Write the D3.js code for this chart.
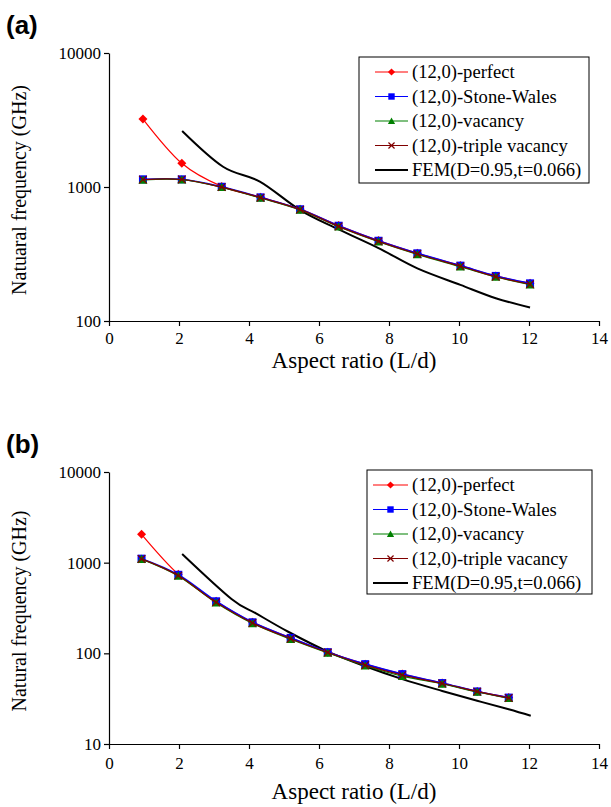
<!DOCTYPE html>
<html><head><meta charset="utf-8">
<script src="https://cdn.jsdelivr.net/npm/d3@7"></script>
<style>body{margin:0;background:#fff}</style>
</head><body>
<svg id="c" width="611" height="807"></svg>
<script>
// ---- data: panel (a) ----
const xA = [0.97, 2.08, 3.22, 4.33, 5.46, 6.56, 7.70, 8.81, 10.04, 11.05, 12.03];
const perfectA = [3215, 1503, 1010, 840, 683, 515, 398, 320, 259, 217, 191];
const stoneWalesA = [1141, 1141, 1004, 837, 682, 514, 397, 320, 259, 217, 191];
const vacancyA = [1130, 1135, 995, 828, 675, 505, 390, 314, 254, 213, 187];
const tripleA = [1135, 1138, 998, 832, 678, 508, 393, 316, 256, 214, 188];
const femXA = [2.09, 3.26, 4.31, 5.46, 6.56, 7.70, 8.81, 10.04, 11.05, 12.03];
const femA = [2618, 1416, 1097, 673, 483, 350, 247, 186, 148, 126];
// ---- data: panel (b) ----
const xB = [0.93, 1.98, 3.06, 4.10, 5.19, 6.25, 7.32, 8.38, 9.52, 10.52, 11.42];
const perfectB = [2055, 745, 375, 220, 148, 103, 76, 59, 47, 38, 32.5];
const stoneWalesB = [1107, 735, 375, 220, 148, 103, 76, 59, 47, 38, 32.5];
const vacancyB = [1095, 715, 362, 214, 143, 101, 73, 56, 46, 37.5, 32];
const tripleB = [1100, 720, 365, 216, 145, 102, 74, 57.5, 46.5, 37.8, 32.2];
const femXB = [2.09, 3.5, 4.2, 5.12, 6.22, 7.32, 8.38, 9.52, 10.52, 11.42, 12.05];
const femB = [1248, 398, 276, 173, 106, 72, 52, 38.5, 30, 24.2, 20.5];
// ---- labels ----
const seriesNames = ["(12,0)-perfect", "(12,0)-Stone-Wales", "(12,0)-vacancy", "(12,0)-triple vacancy", "FEM(D=0.95,t=0.066)"];
const xTicks = [0, 2, 4, 6, 8, 10, 12, 14];
const yTicksA = [100, 1000, 10000];
const yTicksB = [10, 100, 1000, 10000];
const xTitle = "Aspect ratio (L/d)";
const yTitleA = "Natuaral frequency (GHz)";
const yTitleB = "Natural frequency (GHz)";

const colors = ["#ff0000", "#0000ff", "#008000", "#800000", "#000000"];
const markers = ["diamond", "square", "triangle", "cross", null];

const svg = d3.select("#c");
const serif = "'Liberation Serif','Times New Roman',serif";

function marker(g, type, x, y, c, s) {
  s = s || 1;
  if (type === "diamond") {
    const r = 4.5 * s;
    g.append("path").attr("d", `M${x},${y-r}L${x+r},${y}L${x},${y+r}L${x-r},${y}Z`).attr("fill", c);
  } else if (type === "square") {
    const r = 4 * s;
    g.append("rect").attr("x", x - r).attr("y", y - r).attr("width", 2 * r).attr("height", 2 * r).attr("fill", c);
  } else if (type === "triangle") {
    const r = 4.5 * s;
    g.append("path").attr("d", `M${x},${y-r}L${x+r},${y+r*0.85}L${x-r},${y+r*0.85}Z`).attr("fill", c);
  } else if (type === "cross") {
    const r = 3.8 * s;
    g.append("path").attr("d", `M${x-r},${y-r}L${x+r},${y+r}M${x-r},${y+r}L${x+r},${y-r}`).attr("stroke", c).attr("stroke-width", 1.2);
  }
}

function panel(cfg) {
  const g = svg.append("g");
  const x = d3.scaleLinear().domain([0, 14]).range([109, 599]);
  const y = d3.scaleLog().domain(cfg.yDomain).range([cfg.bottom, cfg.top]);

  const series = [
    {xs: cfg.xs, ys: cfg.perfect},
    {xs: cfg.xs, ys: cfg.sw},
    {xs: cfg.xs, ys: cfg.vac},
    {xs: cfg.xs, ys: cfg.tri},
    {xs: cfg.femX, ys: cfg.fem}
  ];
  const line = d3.line().x(d => x(d[0])).y(d => y(d[1])).curve(d3.curveCatmullRom.alpha(0));
  const order = [4, 0, 1, 2, 3];
  order.forEach(i => {
    const s = series[i];
    const pts = s.xs.map((v, j) => [v, s.ys[j]]);
    g.append("path").attr("d", line(pts)).attr("fill", "none")
      .attr("stroke", colors[i]).attr("stroke-width", i === 4 ? 2 : (i === 1 ? 1.6 : 1.2));
    if (markers[i]) pts.forEach(p => marker(g, markers[i], x(p[0]), y(p[1]), colors[i]));
  });

  // axes
  const xa = g.append("g").attr("transform", `translate(0,${cfg.bottom})`)
    .call(d3.axisBottom(x).tickValues(xTicks).tickSize(5).tickSizeOuter(0).tickFormat(d3.format("d")));
  const ya = g.append("g").attr("transform", `translate(109,0)`)
    .call(d3.axisLeft(y).tickValues(cfg.yTicks).tickSize(5).tickSizeOuter(0).tickFormat(d3.format("d")));
  [xa, ya].forEach(a => {
    a.select(".domain").attr("stroke", "#000").attr("stroke-width", 1.2);
    a.selectAll(".tick line").attr("stroke", "#000").attr("stroke-width", 1.2);
    a.selectAll("text").attr("font-family", serif).attr("font-size", 17).attr("fill", "#000");
  });
  xa.selectAll("text").attr("y", 0).attr("dy", 0).attr("transform", `translate(0,${cfg.tickBase})`);
  ya.selectAll("text").attr("x", -8);

  g.append("text").attr("x", 354).attr("y", cfg.bottom + cfg.titleOff).attr("text-anchor", "middle")
    .attr("font-family", serif).attr("font-size", 23).text(xTitle);
  g.append("text").attr("transform", `translate(26,${(cfg.top + cfg.bottom) / 2 + 3}) rotate(-90)`)
    .attr("text-anchor", "middle").attr("font-family", serif).attr("font-size", 20).text(cfg.yTitle);
  g.append("text").attr("x", 6).attr("y", cfg.top - 19)
    .attr("font-family", "'Liberation Sans',Arial,sans-serif").attr("font-weight", "bold").attr("font-size", 26).text(cfg.label);

  // legend
  const L = cfg.legend;
  g.append("rect").attr("x", L.x0).attr("y", L.y0).attr("width", L.x1 - L.x0).attr("height", L.y1 - L.y0)
    .attr("fill", "#fff").attr("stroke", "#000").attr("stroke-width", 1);
  seriesNames.forEach((n, i) => {
    const yy = L.rowY + i * L.dy;
    g.append("line").attr("x1", L.lx0).attr("x2", 408).attr("y1", yy).attr("y2", yy)
      .attr("stroke", colors[i]).attr("stroke-width", i === 4 ? 2 : 1.2);
    if (markers[i]) marker(g, markers[i], (L.lx0 + 408) / 2, yy, colors[i], 0.8);
    g.append("text").attr("x", 412).attr("y", yy).attr("dy", "0.33em")
      .attr("font-family", serif).attr("font-size", 18.6).text(n);
  });
}

panel({top: 53, bottom: 321, yDomain: [100, 10000], yTicks: yTicksA, xs: xA,
  perfect: perfectA, sw: stoneWalesA, vac: vacancyA, tri: tripleA, femX: femXA, fem: femA,
  yTitle: yTitleA, label: "(a)", tickBase: 23, titleOff: 47,
  legend: {x0: 359, x1: 589, y0: 57, y1: 183, rowY: 72, dy: 24.5, lx0: 375}});
panel({top: 472, bottom: 744, yDomain: [10, 10000], yTicks: yTicksB, xs: xB,
  perfect: perfectB, sw: stoneWalesB, vac: vacancyB, tri: tripleB, femX: femXB, fem: femB,
  yTitle: yTitleB, label: "(b)", tickBase: 25, titleOff: 55,
  legend: {x0: 367, x1: 592, y0: 470, y1: 594, rowY: 485, dy: 24.5, lx0: 373}});
</script>
</body></html>
